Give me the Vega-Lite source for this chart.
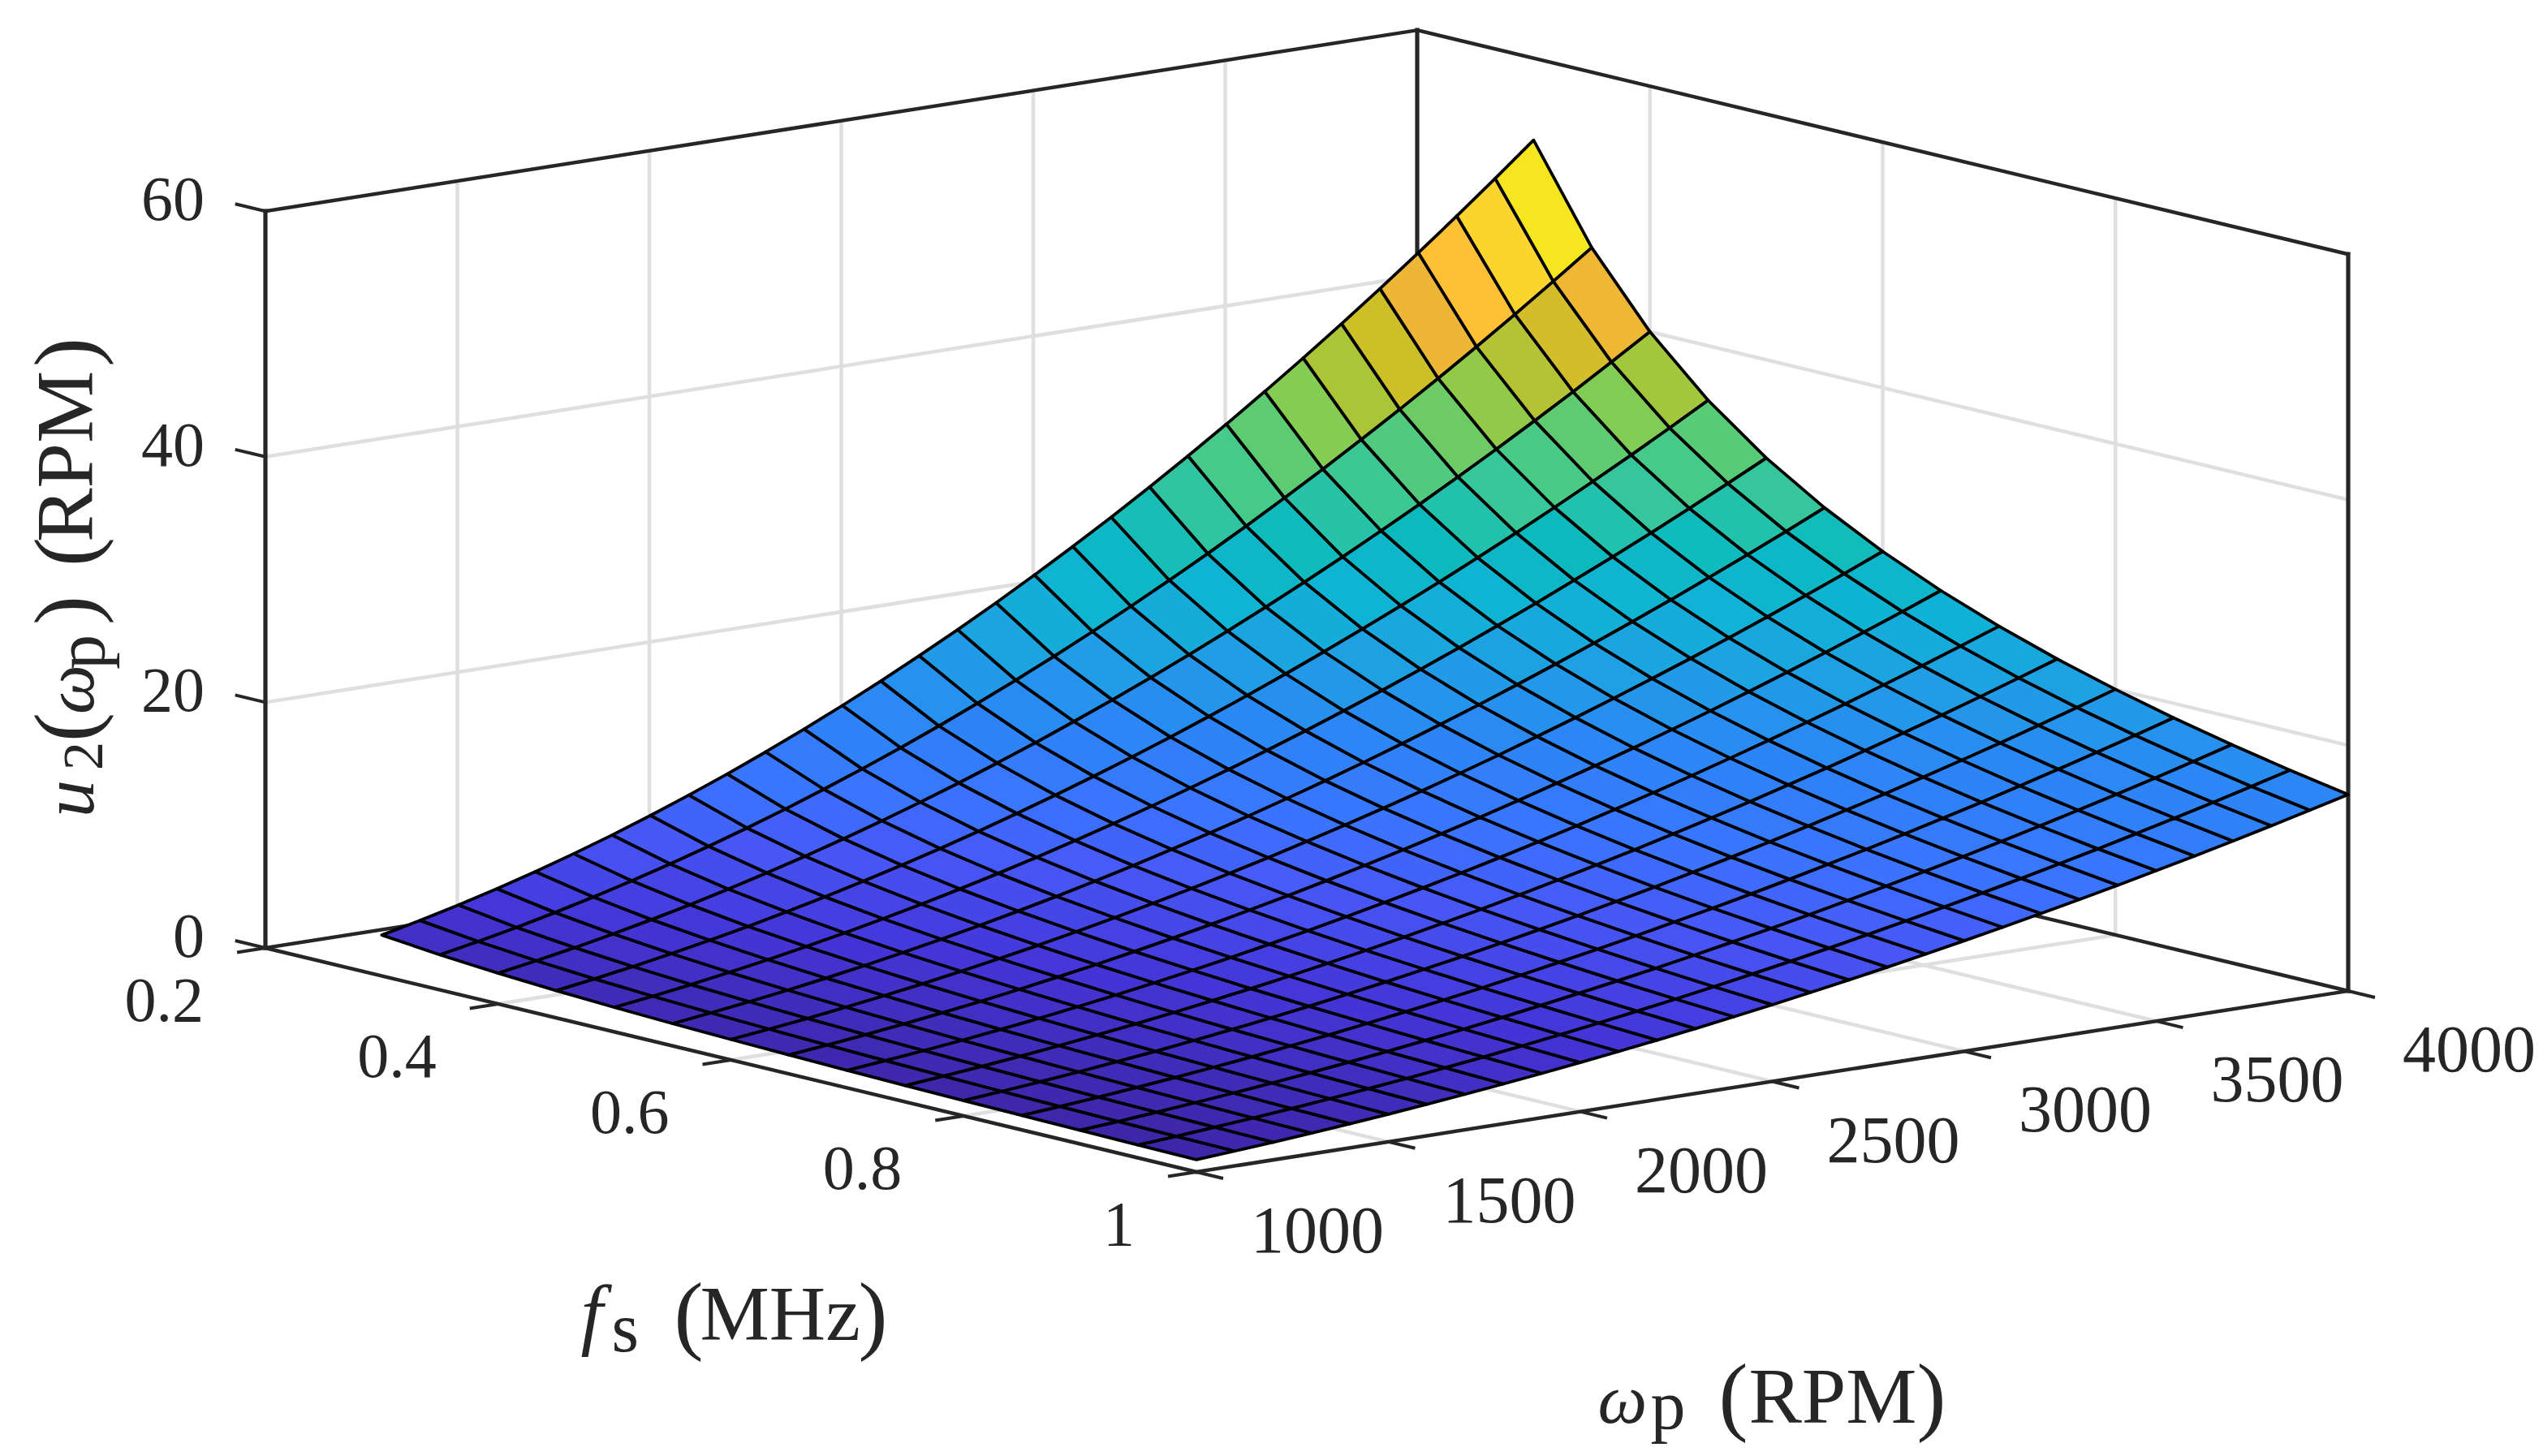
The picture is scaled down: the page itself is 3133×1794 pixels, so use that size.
{"$schema":"https://vega.github.io/schema/vega-lite/v6.json","width":3133,"height":1794,"padding":0,"autosize":{"type":"fit","contains":"padding"},"background":"white","config":{"view":{"stroke":null}},
"data":{"values":[
{"fs":0.3,"wp":1000,"u":3.33},{"fs":0.3,"wp":1100,"u":4.03},{"fs":0.3,"wp":1200,"u":4.8},{"fs":0.3,"wp":1300,"u":5.63},{"fs":0.3,"wp":1400,"u":6.53},{"fs":0.3,"wp":1500,"u":7.5},{"fs":0.3,"wp":1600,"u":8.53},{"fs":0.3,"wp":1700,"u":9.63},{"fs":0.3,"wp":1800,"u":10.8},{"fs":0.3,"wp":1900,"u":12.03},{"fs":0.3,"wp":2000,"u":13.33},{"fs":0.3,"wp":2100,"u":14.7},{"fs":0.3,"wp":2200,"u":16.13},{"fs":0.3,"wp":2300,"u":17.63},{"fs":0.3,"wp":2400,"u":19.2},{"fs":0.3,"wp":2500,"u":20.83},{"fs":0.3,"wp":2600,"u":22.53},{"fs":0.3,"wp":2700,"u":24.3},{"fs":0.3,"wp":2800,"u":26.13},{"fs":0.3,"wp":2900,"u":28.03},{"fs":0.3,"wp":3000,"u":30},{"fs":0.3,"wp":3100,"u":32.03},{"fs":0.3,"wp":3200,"u":34.13},{"fs":0.3,"wp":3300,"u":36.3},{"fs":0.3,"wp":3400,"u":38.53},{"fs":0.3,"wp":3500,"u":40.83},{"fs":0.3,"wp":3600,"u":43.2},{"fs":0.3,"wp":3700,"u":45.63},{"fs":0.3,"wp":3800,"u":48.13},{"fs":0.3,"wp":3900,"u":50.7},{"fs":0.3,"wp":4000,"u":53.33},
{"fs":0.35,"wp":1000,"u":2.86},{"fs":0.35,"wp":1100,"u":3.46},{"fs":0.35,"wp":1200,"u":4.11},{"fs":0.35,"wp":1300,"u":4.83},{"fs":0.35,"wp":1400,"u":5.6},{"fs":0.35,"wp":1500,"u":6.43},{"fs":0.35,"wp":1600,"u":7.31},{"fs":0.35,"wp":1700,"u":8.26},{"fs":0.35,"wp":1800,"u":9.26},{"fs":0.35,"wp":1900,"u":10.31},{"fs":0.35,"wp":2000,"u":11.43},{"fs":0.35,"wp":2100,"u":12.6},{"fs":0.35,"wp":2200,"u":13.83},{"fs":0.35,"wp":2300,"u":15.11},{"fs":0.35,"wp":2400,"u":16.46},{"fs":0.35,"wp":2500,"u":17.86},{"fs":0.35,"wp":2600,"u":19.31},{"fs":0.35,"wp":2700,"u":20.83},{"fs":0.35,"wp":2800,"u":22.4},{"fs":0.35,"wp":2900,"u":24.03},{"fs":0.35,"wp":3000,"u":25.71},{"fs":0.35,"wp":3100,"u":27.46},{"fs":0.35,"wp":3200,"u":29.26},{"fs":0.35,"wp":3300,"u":31.11},{"fs":0.35,"wp":3400,"u":33.03},{"fs":0.35,"wp":3500,"u":35},{"fs":0.35,"wp":3600,"u":37.03},{"fs":0.35,"wp":3700,"u":39.11},{"fs":0.35,"wp":3800,"u":41.26},{"fs":0.35,"wp":3900,"u":43.46},{"fs":0.35,"wp":4000,"u":45.71},
{"fs":0.4,"wp":1000,"u":2.5},{"fs":0.4,"wp":1100,"u":3.03},{"fs":0.4,"wp":1200,"u":3.6},{"fs":0.4,"wp":1300,"u":4.23},{"fs":0.4,"wp":1400,"u":4.9},{"fs":0.4,"wp":1500,"u":5.63},{"fs":0.4,"wp":1600,"u":6.4},{"fs":0.4,"wp":1700,"u":7.23},{"fs":0.4,"wp":1800,"u":8.1},{"fs":0.4,"wp":1900,"u":9.03},{"fs":0.4,"wp":2000,"u":10},{"fs":0.4,"wp":2100,"u":11.03},{"fs":0.4,"wp":2200,"u":12.1},{"fs":0.4,"wp":2300,"u":13.23},{"fs":0.4,"wp":2400,"u":14.4},{"fs":0.4,"wp":2500,"u":15.63},{"fs":0.4,"wp":2600,"u":16.9},{"fs":0.4,"wp":2700,"u":18.23},{"fs":0.4,"wp":2800,"u":19.6},{"fs":0.4,"wp":2900,"u":21.03},{"fs":0.4,"wp":3000,"u":22.5},{"fs":0.4,"wp":3100,"u":24.03},{"fs":0.4,"wp":3200,"u":25.6},{"fs":0.4,"wp":3300,"u":27.23},{"fs":0.4,"wp":3400,"u":28.9},{"fs":0.4,"wp":3500,"u":30.63},{"fs":0.4,"wp":3600,"u":32.4},{"fs":0.4,"wp":3700,"u":34.23},{"fs":0.4,"wp":3800,"u":36.1},{"fs":0.4,"wp":3900,"u":38.03},{"fs":0.4,"wp":4000,"u":40},
{"fs":0.45,"wp":1000,"u":2.22},{"fs":0.45,"wp":1100,"u":2.69},{"fs":0.45,"wp":1200,"u":3.2},{"fs":0.45,"wp":1300,"u":3.76},{"fs":0.45,"wp":1400,"u":4.36},{"fs":0.45,"wp":1500,"u":5},{"fs":0.45,"wp":1600,"u":5.69},{"fs":0.45,"wp":1700,"u":6.42},{"fs":0.45,"wp":1800,"u":7.2},{"fs":0.45,"wp":1900,"u":8.02},{"fs":0.45,"wp":2000,"u":8.89},{"fs":0.45,"wp":2100,"u":9.8},{"fs":0.45,"wp":2200,"u":10.76},{"fs":0.45,"wp":2300,"u":11.76},{"fs":0.45,"wp":2400,"u":12.8},{"fs":0.45,"wp":2500,"u":13.89},{"fs":0.45,"wp":2600,"u":15.02},{"fs":0.45,"wp":2700,"u":16.2},{"fs":0.45,"wp":2800,"u":17.42},{"fs":0.45,"wp":2900,"u":18.69},{"fs":0.45,"wp":3000,"u":20},{"fs":0.45,"wp":3100,"u":21.36},{"fs":0.45,"wp":3200,"u":22.76},{"fs":0.45,"wp":3300,"u":24.2},{"fs":0.45,"wp":3400,"u":25.69},{"fs":0.45,"wp":3500,"u":27.22},{"fs":0.45,"wp":3600,"u":28.8},{"fs":0.45,"wp":3700,"u":30.42},{"fs":0.45,"wp":3800,"u":32.09},{"fs":0.45,"wp":3900,"u":33.8},{"fs":0.45,"wp":4000,"u":35.56},
{"fs":0.5,"wp":1000,"u":2},{"fs":0.5,"wp":1100,"u":2.42},{"fs":0.5,"wp":1200,"u":2.88},{"fs":0.5,"wp":1300,"u":3.38},{"fs":0.5,"wp":1400,"u":3.92},{"fs":0.5,"wp":1500,"u":4.5},{"fs":0.5,"wp":1600,"u":5.12},{"fs":0.5,"wp":1700,"u":5.78},{"fs":0.5,"wp":1800,"u":6.48},{"fs":0.5,"wp":1900,"u":7.22},{"fs":0.5,"wp":2000,"u":8},{"fs":0.5,"wp":2100,"u":8.82},{"fs":0.5,"wp":2200,"u":9.68},{"fs":0.5,"wp":2300,"u":10.58},{"fs":0.5,"wp":2400,"u":11.52},{"fs":0.5,"wp":2500,"u":12.5},{"fs":0.5,"wp":2600,"u":13.52},{"fs":0.5,"wp":2700,"u":14.58},{"fs":0.5,"wp":2800,"u":15.68},{"fs":0.5,"wp":2900,"u":16.82},{"fs":0.5,"wp":3000,"u":18},{"fs":0.5,"wp":3100,"u":19.22},{"fs":0.5,"wp":3200,"u":20.48},{"fs":0.5,"wp":3300,"u":21.78},{"fs":0.5,"wp":3400,"u":23.12},{"fs":0.5,"wp":3500,"u":24.5},{"fs":0.5,"wp":3600,"u":25.92},{"fs":0.5,"wp":3700,"u":27.38},{"fs":0.5,"wp":3800,"u":28.88},{"fs":0.5,"wp":3900,"u":30.42},{"fs":0.5,"wp":4000,"u":32},
{"fs":0.55,"wp":1000,"u":1.82},{"fs":0.55,"wp":1100,"u":2.2},{"fs":0.55,"wp":1200,"u":2.62},{"fs":0.55,"wp":1300,"u":3.07},{"fs":0.55,"wp":1400,"u":3.56},{"fs":0.55,"wp":1500,"u":4.09},{"fs":0.55,"wp":1600,"u":4.65},{"fs":0.55,"wp":1700,"u":5.25},{"fs":0.55,"wp":1800,"u":5.89},{"fs":0.55,"wp":1900,"u":6.56},{"fs":0.55,"wp":2000,"u":7.27},{"fs":0.55,"wp":2100,"u":8.02},{"fs":0.55,"wp":2200,"u":8.8},{"fs":0.55,"wp":2300,"u":9.62},{"fs":0.55,"wp":2400,"u":10.47},{"fs":0.55,"wp":2500,"u":11.36},{"fs":0.55,"wp":2600,"u":12.29},{"fs":0.55,"wp":2700,"u":13.25},{"fs":0.55,"wp":2800,"u":14.25},{"fs":0.55,"wp":2900,"u":15.29},{"fs":0.55,"wp":3000,"u":16.36},{"fs":0.55,"wp":3100,"u":17.47},{"fs":0.55,"wp":3200,"u":18.62},{"fs":0.55,"wp":3300,"u":19.8},{"fs":0.55,"wp":3400,"u":21.02},{"fs":0.55,"wp":3500,"u":22.27},{"fs":0.55,"wp":3600,"u":23.56},{"fs":0.55,"wp":3700,"u":24.89},{"fs":0.55,"wp":3800,"u":26.25},{"fs":0.55,"wp":3900,"u":27.65},{"fs":0.55,"wp":4000,"u":29.09},
{"fs":0.6,"wp":1000,"u":1.67},{"fs":0.6,"wp":1100,"u":2.02},{"fs":0.6,"wp":1200,"u":2.4},{"fs":0.6,"wp":1300,"u":2.82},{"fs":0.6,"wp":1400,"u":3.27},{"fs":0.6,"wp":1500,"u":3.75},{"fs":0.6,"wp":1600,"u":4.27},{"fs":0.6,"wp":1700,"u":4.82},{"fs":0.6,"wp":1800,"u":5.4},{"fs":0.6,"wp":1900,"u":6.02},{"fs":0.6,"wp":2000,"u":6.67},{"fs":0.6,"wp":2100,"u":7.35},{"fs":0.6,"wp":2200,"u":8.07},{"fs":0.6,"wp":2300,"u":8.82},{"fs":0.6,"wp":2400,"u":9.6},{"fs":0.6,"wp":2500,"u":10.42},{"fs":0.6,"wp":2600,"u":11.27},{"fs":0.6,"wp":2700,"u":12.15},{"fs":0.6,"wp":2800,"u":13.07},{"fs":0.6,"wp":2900,"u":14.02},{"fs":0.6,"wp":3000,"u":15},{"fs":0.6,"wp":3100,"u":16.02},{"fs":0.6,"wp":3200,"u":17.07},{"fs":0.6,"wp":3300,"u":18.15},{"fs":0.6,"wp":3400,"u":19.27},{"fs":0.6,"wp":3500,"u":20.42},{"fs":0.6,"wp":3600,"u":21.6},{"fs":0.6,"wp":3700,"u":22.82},{"fs":0.6,"wp":3800,"u":24.07},{"fs":0.6,"wp":3900,"u":25.35},{"fs":0.6,"wp":4000,"u":26.67},
{"fs":0.65,"wp":1000,"u":1.54},{"fs":0.65,"wp":1100,"u":1.86},{"fs":0.65,"wp":1200,"u":2.22},{"fs":0.65,"wp":1300,"u":2.6},{"fs":0.65,"wp":1400,"u":3.02},{"fs":0.65,"wp":1500,"u":3.46},{"fs":0.65,"wp":1600,"u":3.94},{"fs":0.65,"wp":1700,"u":4.45},{"fs":0.65,"wp":1800,"u":4.98},{"fs":0.65,"wp":1900,"u":5.55},{"fs":0.65,"wp":2000,"u":6.15},{"fs":0.65,"wp":2100,"u":6.78},{"fs":0.65,"wp":2200,"u":7.45},{"fs":0.65,"wp":2300,"u":8.14},{"fs":0.65,"wp":2400,"u":8.86},{"fs":0.65,"wp":2500,"u":9.62},{"fs":0.65,"wp":2600,"u":10.4},{"fs":0.65,"wp":2700,"u":11.22},{"fs":0.65,"wp":2800,"u":12.06},{"fs":0.65,"wp":2900,"u":12.94},{"fs":0.65,"wp":3000,"u":13.85},{"fs":0.65,"wp":3100,"u":14.78},{"fs":0.65,"wp":3200,"u":15.75},{"fs":0.65,"wp":3300,"u":16.75},{"fs":0.65,"wp":3400,"u":17.78},{"fs":0.65,"wp":3500,"u":18.85},{"fs":0.65,"wp":3600,"u":19.94},{"fs":0.65,"wp":3700,"u":21.06},{"fs":0.65,"wp":3800,"u":22.22},{"fs":0.65,"wp":3900,"u":23.4},{"fs":0.65,"wp":4000,"u":24.62},
{"fs":0.7,"wp":1000,"u":1.43},{"fs":0.7,"wp":1100,"u":1.73},{"fs":0.7,"wp":1200,"u":2.06},{"fs":0.7,"wp":1300,"u":2.41},{"fs":0.7,"wp":1400,"u":2.8},{"fs":0.7,"wp":1500,"u":3.21},{"fs":0.7,"wp":1600,"u":3.66},{"fs":0.7,"wp":1700,"u":4.13},{"fs":0.7,"wp":1800,"u":4.63},{"fs":0.7,"wp":1900,"u":5.16},{"fs":0.7,"wp":2000,"u":5.71},{"fs":0.7,"wp":2100,"u":6.3},{"fs":0.7,"wp":2200,"u":6.91},{"fs":0.7,"wp":2300,"u":7.56},{"fs":0.7,"wp":2400,"u":8.23},{"fs":0.7,"wp":2500,"u":8.93},{"fs":0.7,"wp":2600,"u":9.66},{"fs":0.7,"wp":2700,"u":10.41},{"fs":0.7,"wp":2800,"u":11.2},{"fs":0.7,"wp":2900,"u":12.01},{"fs":0.7,"wp":3000,"u":12.86},{"fs":0.7,"wp":3100,"u":13.73},{"fs":0.7,"wp":3200,"u":14.63},{"fs":0.7,"wp":3300,"u":15.56},{"fs":0.7,"wp":3400,"u":16.51},{"fs":0.7,"wp":3500,"u":17.5},{"fs":0.7,"wp":3600,"u":18.51},{"fs":0.7,"wp":3700,"u":19.56},{"fs":0.7,"wp":3800,"u":20.63},{"fs":0.7,"wp":3900,"u":21.73},{"fs":0.7,"wp":4000,"u":22.86},
{"fs":0.75,"wp":1000,"u":1.33},{"fs":0.75,"wp":1100,"u":1.61},{"fs":0.75,"wp":1200,"u":1.92},{"fs":0.75,"wp":1300,"u":2.25},{"fs":0.75,"wp":1400,"u":2.61},{"fs":0.75,"wp":1500,"u":3},{"fs":0.75,"wp":1600,"u":3.41},{"fs":0.75,"wp":1700,"u":3.85},{"fs":0.75,"wp":1800,"u":4.32},{"fs":0.75,"wp":1900,"u":4.81},{"fs":0.75,"wp":2000,"u":5.33},{"fs":0.75,"wp":2100,"u":5.88},{"fs":0.75,"wp":2200,"u":6.45},{"fs":0.75,"wp":2300,"u":7.05},{"fs":0.75,"wp":2400,"u":7.68},{"fs":0.75,"wp":2500,"u":8.33},{"fs":0.75,"wp":2600,"u":9.01},{"fs":0.75,"wp":2700,"u":9.72},{"fs":0.75,"wp":2800,"u":10.45},{"fs":0.75,"wp":2900,"u":11.21},{"fs":0.75,"wp":3000,"u":12},{"fs":0.75,"wp":3100,"u":12.81},{"fs":0.75,"wp":3200,"u":13.65},{"fs":0.75,"wp":3300,"u":14.52},{"fs":0.75,"wp":3400,"u":15.41},{"fs":0.75,"wp":3500,"u":16.33},{"fs":0.75,"wp":3600,"u":17.28},{"fs":0.75,"wp":3700,"u":18.25},{"fs":0.75,"wp":3800,"u":19.25},{"fs":0.75,"wp":3900,"u":20.28},{"fs":0.75,"wp":4000,"u":21.33},
{"fs":0.8,"wp":1000,"u":1.25},{"fs":0.8,"wp":1100,"u":1.51},{"fs":0.8,"wp":1200,"u":1.8},{"fs":0.8,"wp":1300,"u":2.11},{"fs":0.8,"wp":1400,"u":2.45},{"fs":0.8,"wp":1500,"u":2.81},{"fs":0.8,"wp":1600,"u":3.2},{"fs":0.8,"wp":1700,"u":3.61},{"fs":0.8,"wp":1800,"u":4.05},{"fs":0.8,"wp":1900,"u":4.51},{"fs":0.8,"wp":2000,"u":5},{"fs":0.8,"wp":2100,"u":5.51},{"fs":0.8,"wp":2200,"u":6.05},{"fs":0.8,"wp":2300,"u":6.61},{"fs":0.8,"wp":2400,"u":7.2},{"fs":0.8,"wp":2500,"u":7.81},{"fs":0.8,"wp":2600,"u":8.45},{"fs":0.8,"wp":2700,"u":9.11},{"fs":0.8,"wp":2800,"u":9.8},{"fs":0.8,"wp":2900,"u":10.51},{"fs":0.8,"wp":3000,"u":11.25},{"fs":0.8,"wp":3100,"u":12.01},{"fs":0.8,"wp":3200,"u":12.8},{"fs":0.8,"wp":3300,"u":13.61},{"fs":0.8,"wp":3400,"u":14.45},{"fs":0.8,"wp":3500,"u":15.31},{"fs":0.8,"wp":3600,"u":16.2},{"fs":0.8,"wp":3700,"u":17.11},{"fs":0.8,"wp":3800,"u":18.05},{"fs":0.8,"wp":3900,"u":19.01},{"fs":0.8,"wp":4000,"u":20},
{"fs":0.85,"wp":1000,"u":1.18},{"fs":0.85,"wp":1100,"u":1.42},{"fs":0.85,"wp":1200,"u":1.69},{"fs":0.85,"wp":1300,"u":1.99},{"fs":0.85,"wp":1400,"u":2.31},{"fs":0.85,"wp":1500,"u":2.65},{"fs":0.85,"wp":1600,"u":3.01},{"fs":0.85,"wp":1700,"u":3.4},{"fs":0.85,"wp":1800,"u":3.81},{"fs":0.85,"wp":1900,"u":4.25},{"fs":0.85,"wp":2000,"u":4.71},{"fs":0.85,"wp":2100,"u":5.19},{"fs":0.85,"wp":2200,"u":5.69},{"fs":0.85,"wp":2300,"u":6.22},{"fs":0.85,"wp":2400,"u":6.78},{"fs":0.85,"wp":2500,"u":7.35},{"fs":0.85,"wp":2600,"u":7.95},{"fs":0.85,"wp":2700,"u":8.58},{"fs":0.85,"wp":2800,"u":9.22},{"fs":0.85,"wp":2900,"u":9.89},{"fs":0.85,"wp":3000,"u":10.59},{"fs":0.85,"wp":3100,"u":11.31},{"fs":0.85,"wp":3200,"u":12.05},{"fs":0.85,"wp":3300,"u":12.81},{"fs":0.85,"wp":3400,"u":13.6},{"fs":0.85,"wp":3500,"u":14.41},{"fs":0.85,"wp":3600,"u":15.25},{"fs":0.85,"wp":3700,"u":16.11},{"fs":0.85,"wp":3800,"u":16.99},{"fs":0.85,"wp":3900,"u":17.89},{"fs":0.85,"wp":4000,"u":18.82},
{"fs":0.9,"wp":1000,"u":1.11},{"fs":0.9,"wp":1100,"u":1.34},{"fs":0.9,"wp":1200,"u":1.6},{"fs":0.9,"wp":1300,"u":1.88},{"fs":0.9,"wp":1400,"u":2.18},{"fs":0.9,"wp":1500,"u":2.5},{"fs":0.9,"wp":1600,"u":2.84},{"fs":0.9,"wp":1700,"u":3.21},{"fs":0.9,"wp":1800,"u":3.6},{"fs":0.9,"wp":1900,"u":4.01},{"fs":0.9,"wp":2000,"u":4.44},{"fs":0.9,"wp":2100,"u":4.9},{"fs":0.9,"wp":2200,"u":5.38},{"fs":0.9,"wp":2300,"u":5.88},{"fs":0.9,"wp":2400,"u":6.4},{"fs":0.9,"wp":2500,"u":6.94},{"fs":0.9,"wp":2600,"u":7.51},{"fs":0.9,"wp":2700,"u":8.1},{"fs":0.9,"wp":2800,"u":8.71},{"fs":0.9,"wp":2900,"u":9.34},{"fs":0.9,"wp":3000,"u":10},{"fs":0.9,"wp":3100,"u":10.68},{"fs":0.9,"wp":3200,"u":11.38},{"fs":0.9,"wp":3300,"u":12.1},{"fs":0.9,"wp":3400,"u":12.84},{"fs":0.9,"wp":3500,"u":13.61},{"fs":0.9,"wp":3600,"u":14.4},{"fs":0.9,"wp":3700,"u":15.21},{"fs":0.9,"wp":3800,"u":16.04},{"fs":0.9,"wp":3900,"u":16.9},{"fs":0.9,"wp":4000,"u":17.78},
{"fs":0.95,"wp":1000,"u":1.05},{"fs":0.95,"wp":1100,"u":1.27},{"fs":0.95,"wp":1200,"u":1.52},{"fs":0.95,"wp":1300,"u":1.78},{"fs":0.95,"wp":1400,"u":2.06},{"fs":0.95,"wp":1500,"u":2.37},{"fs":0.95,"wp":1600,"u":2.69},{"fs":0.95,"wp":1700,"u":3.04},{"fs":0.95,"wp":1800,"u":3.41},{"fs":0.95,"wp":1900,"u":3.8},{"fs":0.95,"wp":2000,"u":4.21},{"fs":0.95,"wp":2100,"u":4.64},{"fs":0.95,"wp":2200,"u":5.09},{"fs":0.95,"wp":2300,"u":5.57},{"fs":0.95,"wp":2400,"u":6.06},{"fs":0.95,"wp":2500,"u":6.58},{"fs":0.95,"wp":2600,"u":7.12},{"fs":0.95,"wp":2700,"u":7.67},{"fs":0.95,"wp":2800,"u":8.25},{"fs":0.95,"wp":2900,"u":8.85},{"fs":0.95,"wp":3000,"u":9.47},{"fs":0.95,"wp":3100,"u":10.12},{"fs":0.95,"wp":3200,"u":10.78},{"fs":0.95,"wp":3300,"u":11.46},{"fs":0.95,"wp":3400,"u":12.17},{"fs":0.95,"wp":3500,"u":12.89},{"fs":0.95,"wp":3600,"u":13.64},{"fs":0.95,"wp":3700,"u":14.41},{"fs":0.95,"wp":3800,"u":15.2},{"fs":0.95,"wp":3900,"u":16.01},{"fs":0.95,"wp":4000,"u":16.84},
{"fs":1,"wp":1000,"u":1},{"fs":1,"wp":1100,"u":1.21},{"fs":1,"wp":1200,"u":1.44},{"fs":1,"wp":1300,"u":1.69},{"fs":1,"wp":1400,"u":1.96},{"fs":1,"wp":1500,"u":2.25},{"fs":1,"wp":1600,"u":2.56},{"fs":1,"wp":1700,"u":2.89},{"fs":1,"wp":1800,"u":3.24},{"fs":1,"wp":1900,"u":3.61},{"fs":1,"wp":2000,"u":4},{"fs":1,"wp":2100,"u":4.41},{"fs":1,"wp":2200,"u":4.84},{"fs":1,"wp":2300,"u":5.29},{"fs":1,"wp":2400,"u":5.76},{"fs":1,"wp":2500,"u":6.25},{"fs":1,"wp":2600,"u":6.76},{"fs":1,"wp":2700,"u":7.29},{"fs":1,"wp":2800,"u":7.84},{"fs":1,"wp":2900,"u":8.41},{"fs":1,"wp":3000,"u":9},{"fs":1,"wp":3100,"u":9.61},{"fs":1,"wp":3200,"u":10.24},{"fs":1,"wp":3300,"u":10.89},{"fs":1,"wp":3400,"u":11.56},{"fs":1,"wp":3500,"u":12.25},{"fs":1,"wp":3600,"u":12.96},{"fs":1,"wp":3700,"u":13.69},{"fs":1,"wp":3800,"u":14.44},{"fs":1,"wp":3900,"u":15.21},{"fs":1,"wp":4000,"u":16},
{"part":"grid","seg":1,"fs":0.4,"wp":1000,"u":0},{"part":"grid","seg":1,"fs":0.4,"wp":4000,"u":0},
{"part":"grid","seg":2,"fs":0.6,"wp":1000,"u":0},{"part":"grid","seg":2,"fs":0.6,"wp":4000,"u":0},
{"part":"grid","seg":3,"fs":0.8,"wp":1000,"u":0},{"part":"grid","seg":3,"fs":0.8,"wp":4000,"u":0},
{"part":"grid","seg":4,"fs":0.2,"wp":1500,"u":0},{"part":"grid","seg":4,"fs":1,"wp":1500,"u":0},
{"part":"grid","seg":5,"fs":0.2,"wp":2000,"u":0},{"part":"grid","seg":5,"fs":1,"wp":2000,"u":0},
{"part":"grid","seg":6,"fs":0.2,"wp":2500,"u":0},{"part":"grid","seg":6,"fs":1,"wp":2500,"u":0},
{"part":"grid","seg":7,"fs":0.2,"wp":3000,"u":0},{"part":"grid","seg":7,"fs":1,"wp":3000,"u":0},
{"part":"grid","seg":8,"fs":0.2,"wp":3500,"u":0},{"part":"grid","seg":8,"fs":1,"wp":3500,"u":0},
{"part":"grid","seg":9,"fs":0.2,"wp":1500,"u":0},{"part":"grid","seg":9,"fs":0.2,"wp":1500,"u":60},
{"part":"grid","seg":10,"fs":0.2,"wp":2000,"u":0},{"part":"grid","seg":10,"fs":0.2,"wp":2000,"u":60},
{"part":"grid","seg":11,"fs":0.2,"wp":2500,"u":0},{"part":"grid","seg":11,"fs":0.2,"wp":2500,"u":60},
{"part":"grid","seg":12,"fs":0.2,"wp":3000,"u":0},{"part":"grid","seg":12,"fs":0.2,"wp":3000,"u":60},
{"part":"grid","seg":13,"fs":0.2,"wp":3500,"u":0},{"part":"grid","seg":13,"fs":0.2,"wp":3500,"u":60},
{"part":"grid","seg":14,"fs":0.2,"wp":1000,"u":20},{"part":"grid","seg":14,"fs":0.2,"wp":4000,"u":20},
{"part":"grid","seg":15,"fs":0.2,"wp":1000,"u":40},{"part":"grid","seg":15,"fs":0.2,"wp":4000,"u":40},
{"part":"grid","seg":16,"fs":0.4,"wp":4000,"u":0},{"part":"grid","seg":16,"fs":0.4,"wp":4000,"u":60},
{"part":"grid","seg":17,"fs":0.6,"wp":4000,"u":0},{"part":"grid","seg":17,"fs":0.6,"wp":4000,"u":60},
{"part":"grid","seg":18,"fs":0.8,"wp":4000,"u":0},{"part":"grid","seg":18,"fs":0.8,"wp":4000,"u":60},
{"part":"grid","seg":19,"fs":0.2,"wp":4000,"u":20},{"part":"grid","seg":19,"fs":1,"wp":4000,"u":20},
{"part":"grid","seg":20,"fs":0.2,"wp":4000,"u":40},{"part":"grid","seg":20,"fs":1,"wp":4000,"u":40},
{"part":"vbox","seg":1,"fs":0.2,"wp":1000,"u":0},{"part":"vbox","seg":1,"fs":0.2,"wp":1000,"u":60},
{"part":"vbox","seg":2,"fs":1,"wp":4000,"u":0},{"part":"vbox","seg":2,"fs":1,"wp":4000,"u":60},
{"part":"vbox","seg":3,"fs":0.2,"wp":4000,"u":0},{"part":"vbox","seg":3,"fs":0.2,"wp":4000,"u":60},
{"part":"box","seg":4,"fs":0.2,"wp":1000,"u":60},{"part":"box","seg":4,"fs":0.2,"wp":4000,"u":60},
{"part":"box","seg":5,"fs":0.2,"wp":4000,"u":60},{"part":"box","seg":5,"fs":1,"wp":4000,"u":60},
{"part":"box","seg":6,"fs":0.2,"wp":1000,"u":0},{"part":"box","seg":6,"fs":0.2,"wp":4000,"u":0},
{"part":"box","seg":7,"fs":0.2,"wp":4000,"u":0},{"part":"box","seg":7,"fs":1,"wp":4000,"u":0},
{"part":"box","seg":8,"fs":0.2,"wp":1000,"u":0},{"part":"box","seg":8,"fs":1,"wp":1000,"u":0},
{"part":"box","seg":9,"fs":1,"wp":1000,"u":0},{"part":"box","seg":9,"fs":1,"wp":4000,"u":0},
{"part":"tick","seg":1,"fs":0.2,"wp":1000,"u":0},{"part":"tick","seg":1,"fs":0.2,"wp":926,"u":0},
{"part":"tick","seg":2,"fs":0.4,"wp":1000,"u":0},{"part":"tick","seg":2,"fs":0.4,"wp":926,"u":0},
{"part":"tick","seg":3,"fs":0.6,"wp":1000,"u":0},{"part":"tick","seg":3,"fs":0.6,"wp":926,"u":0},
{"part":"tick","seg":4,"fs":0.8,"wp":1000,"u":0},{"part":"tick","seg":4,"fs":0.8,"wp":926,"u":0},
{"part":"tick","seg":5,"fs":1,"wp":1000,"u":0},{"part":"tick","seg":5,"fs":1,"wp":926,"u":0},
{"part":"tick","seg":6,"fs":1,"wp":1000,"u":0},{"part":"tick","seg":6,"fs":1.023,"wp":1000,"u":0},
{"part":"tick","seg":7,"fs":1,"wp":1500,"u":0},{"part":"tick","seg":7,"fs":1.023,"wp":1500,"u":0},
{"part":"tick","seg":8,"fs":1,"wp":2000,"u":0},{"part":"tick","seg":8,"fs":1.023,"wp":2000,"u":0},
{"part":"tick","seg":9,"fs":1,"wp":2500,"u":0},{"part":"tick","seg":9,"fs":1.023,"wp":2500,"u":0},
{"part":"tick","seg":10,"fs":1,"wp":3000,"u":0},{"part":"tick","seg":10,"fs":1.023,"wp":3000,"u":0},
{"part":"tick","seg":11,"fs":1,"wp":3500,"u":0},{"part":"tick","seg":11,"fs":1.023,"wp":3500,"u":0},
{"part":"tick","seg":12,"fs":1,"wp":4000,"u":0},{"part":"tick","seg":12,"fs":1.023,"wp":4000,"u":0},
{"part":"tick","seg":13,"fs":0.2,"wp":1000,"u":0},{"part":"tick","seg":13,"fs":0.174,"wp":1000,"u":0},
{"part":"tick","seg":14,"fs":0.2,"wp":1000,"u":20},{"part":"tick","seg":14,"fs":0.174,"wp":1000,"u":20},
{"part":"tick","seg":15,"fs":0.2,"wp":1000,"u":40},{"part":"tick","seg":15,"fs":0.174,"wp":1000,"u":40},
{"part":"tick","seg":16,"fs":0.2,"wp":1000,"u":60},{"part":"tick","seg":16,"fs":0.174,"wp":1000,"u":60},
{"part":"zl","fs":0.2,"wp":1000,"u":0,"label":"0"},{"part":"zl","fs":0.2,"wp":1000,"u":20,"label":"20"},{"part":"zl","fs":0.2,"wp":1000,"u":40,"label":"40"},{"part":"zl","fs":0.2,"wp":1000,"u":60,"label":"60"},
{"part":"fl","fs":0.2,"wp":1000,"u":0,"label":"0.2"},{"part":"fl","fs":0.4,"wp":1000,"u":0,"label":"0.4"},{"part":"fl","fs":0.6,"wp":1000,"u":0,"label":"0.6"},{"part":"fl","fs":0.8,"wp":1000,"u":0,"label":"0.8"},{"part":"fl","fs":1,"wp":1000,"u":0,"label":"1"},
{"part":"wl","fs":1,"wp":1000,"u":0,"label":"1000"},{"part":"wl","fs":1,"wp":1500,"u":0,"label":"1500"},{"part":"wl","fs":1,"wp":2000,"u":0,"label":"2000"},{"part":"wl","fs":1,"wp":2500,"u":0,"label":"2500"},{"part":"wl","fs":1,"wp":3000,"u":0,"label":"3000"},{"part":"wl","fs":1,"wp":3500,"u":0,"label":"3500"},{"part":"wl","fs":1,"wp":4000,"u":0,"label":"4000"},
{"part":"y1","fs":0.2,"wp":1000,"u":30,"label":"u"},{"part":"y2","fs":0.2,"wp":1000,"u":30,"label":"2"},{"part":"y3","fs":0.2,"wp":1000,"u":30,"label":"("},{"part":"y4","fs":0.2,"wp":1000,"u":30,"label":"ω"},{"part":"y5","fs":0.2,"wp":1000,"u":30,"label":"p"},{"part":"y6","fs":0.2,"wp":1000,"u":30,"label":")"},{"part":"y7","fs":0.2,"wp":1000,"u":30,"label":"("},{"part":"y8","fs":0.2,"wp":1000,"u":30,"label":"RPM"},{"part":"y9","fs":0.2,"wp":1000,"u":30,"label":")"},
{"part":"f1","fs":0.6,"wp":1000,"u":0,"label":"f"},{"part":"f2","fs":0.6,"wp":1000,"u":0,"label":"s"},{"part":"f3","fs":0.6,"wp":1000,"u":0,"label":"("},{"part":"f4","fs":0.6,"wp":1000,"u":0,"label":"MHz"},{"part":"f5","fs":0.6,"wp":1000,"u":0,"label":")"},
{"part":"w1","fs":1,"wp":2500,"u":0,"label":"ω"},{"part":"w2","fs":1,"wp":2500,"u":0,"label":"p"},{"part":"w3","fs":1,"wp":2500,"u":0,"label":"("},{"part":"w4","fs":1,"wp":2500,"u":0,"label":"RPM"},{"part":"w5","fs":1,"wp":2500,"u":0,"label":")"}
]},
"transform":[
{"calculate":"327+1147*(datum.fs-0.2)/0.8+1419*(datum.wp-1000)/3000","as":"px"},
{"calculate":"1168+276*(datum.fs-0.2)/0.8-223*(datum.wp-1000)/3000-15.13*datum.u","as":"py"}
],
"encoding":{
"x":{"field":"px","type":"quantitative","axis":null,"scale":{"domain":[0,3133],"nice":false,"zero":false}},
"y":{"field":"py","type":"quantitative","axis":null,"scale":{"domain":[1794,0],"nice":false,"zero":false}}
},
"layer":[
{"transform":[{"filter":"datum.part=='grid'"}],"mark":{"type":"line","stroke":"#DFDFDF","strokeWidth":4.5},"encoding":{"detail":{"field":"seg","type":"nominal"}}},
{"transform":[{"filter":"datum.part=='vbox'"}],"mark":{"type":"line","stroke":"#262626","strokeWidth":5.2,"strokeCap":"square"},"encoding":{"detail":{"field":"seg","type":"nominal"}}},
{"transform":[{"filter":"datum.part=='box'"}],"mark":{"type":"line","stroke":"#262626","strokeWidth":4.5,"strokeCap":"square"},"encoding":{"detail":{"field":"seg","type":"nominal"}}},
{"transform":[{"filter":"datum.part=='tick'"}],"mark":{"type":"line","stroke":"#262626","strokeWidth":4},"encoding":{"detail":{"field":"seg","type":"nominal"}}},
{"transform":[
{"filter":"!datum.part"},
{"calculate":"round((datum.fs-0.3)/0.05)","as":"i"},
{"calculate":"round((datum.wp-1000)/100)","as":"j"},
{"calculate":"[0,1,2,3]","as":"k"},
{"flatten":["k"]},
{"calculate":"datum.i-((datum.k==1||datum.k==2)?1:0)","as":"a"},
{"calculate":"datum.j-((datum.k==2||datum.k==3)?1:0)","as":"b"},
{"filter":"datum.a>=0&&datum.a<14&&datum.b>=0&&datum.b<30"},
{"calculate":"datum.a*100+datum.b","as":"cell"},
{"calculate":"datum.k==0?datum.u:null","as":"cu"},
{"joinaggregate":[{"op":"max","field":"cu","as":"cellu"}],"groupby":["cell"]}
],
"mark":{"type":"line","interpolate":"linear-closed","stroke":"#000000","strokeWidth":3.8,"strokeJoin":"round"},
"encoding":{
"detail":{"field":"cell","type":"nominal"},
"order":{"field":"k","type":"quantitative"},
"fill":{"field":"cellu","type":"quantitative","legend":null,"scale":{"zero":false,"nice":false,"interpolate":"rgb","domain":[1,4.66,8.48,11.47,15.97,19.84,23.5,27.17,29.78,32.03,34.13,36.3,38.53,40.83,43.18,45.63,48.1,50.7,53.33],"range":["#3E26A8","#4435D8","#4758F7","#3A74FF","#2B87F5","#1F9FE4","#10B2D6","#0BBABF","#2EC5A2","#45CA89","#5CCB72","#85CC52","#ABC537","#CDBF27","#EEB635","#FEC035","#FBD42D","#F5E61F","#F9FB15"]}}
}},
{"transform":[{"filter":"datum.part=='zl'"}],"mark":{"type":"text","font":"Liberation Serif","fontSize":78,"fill":"#262626","align":"right","baseline":"middle","dx":-75,"dy":-12},"encoding":{"text":{"field":"label"}}},
{"transform":[{"filter":"datum.part=='fl'"}],"mark":{"type":"text","font":"Liberation Serif","fontSize":78,"fill":"#262626","align":"right","baseline":"middle","dx":-76,"dy":67},"encoding":{"text":{"field":"label"}}},
{"transform":[{"filter":"datum.part=='wl'"}],"mark":{"type":"text","font":"Liberation Serif","fontSize":82,"fill":"#262626","align":"left","baseline":"middle","dx":67,"dy":74},"encoding":{"text":{"field":"label"}}},
{"transform":[{"filter":"datum.part=='y1'"}],"mark":{"type":"text","font":"Liberation Serif","fontStyle":"italic","fontSize":92,"fill":"#262626","angle":270,"align":"left","baseline":"alphabetic","dx":-293,"dy":-212},"encoding":{"text":{"field":"label"}}},
{"transform":[{"filter":"datum.part=='y2'"}],"mark":{"type":"text","font":"Liberation Serif","fontSize":70,"fill":"#262626","angle":270,"align":"left","baseline":"alphabetic","dx":-235,"dy":-201},"encoding":{"text":{"field":"label"}}},
{"transform":[{"filter":"datum.part=='y3'"}],"mark":{"type":"text","font":"Liberation Serif","fontSize":108,"fill":"#262626","angle":270,"align":"left","baseline":"alphabetic","dx":-200,"dy":-210},"encoding":{"text":{"field":"label"}}},
{"transform":[{"filter":"datum.part=='y4'"}],"mark":{"type":"text","font":"Liberation Serif","fontStyle":"italic","fontSize":86,"fill":"#262626","angle":270,"align":"left","baseline":"alphabetic","dx":-166,"dy":-212},"encoding":{"text":{"field":"label"}}},
{"transform":[{"filter":"datum.part=='y5'"}],"mark":{"type":"text","font":"Liberation Serif","fontSize":86,"fill":"#262626","angle":270,"align":"left","baseline":"alphabetic","dx":-111,"dy":-199},"encoding":{"text":{"field":"label"}}},
{"transform":[{"filter":"datum.part=='y6'"}],"mark":{"type":"text","font":"Liberation Serif","fontSize":108,"fill":"#262626","angle":270,"align":"left","baseline":"alphabetic","dx":-56,"dy":-210},"encoding":{"text":{"field":"label"}}},
{"transform":[{"filter":"datum.part=='y7'"}],"mark":{"type":"text","font":"Liberation Serif","fontSize":108,"fill":"#262626","angle":270,"align":"left","baseline":"alphabetic","dx":16,"dy":-210},"encoding":{"text":{"field":"label"}}},
{"transform":[{"filter":"datum.part=='y8'"}],"mark":{"type":"text","font":"Liberation Serif","fontSize":100,"fill":"#262626","angle":270,"align":"left","baseline":"alphabetic","dx":46,"dy":-214},"encoding":{"text":{"field":"label"}}},
{"transform":[{"filter":"datum.part=='y9'"}],"mark":{"type":"text","font":"Liberation Serif","fontSize":108,"fill":"#262626","angle":270,"align":"left","baseline":"alphabetic","dx":262,"dy":-210},"encoding":{"text":{"field":"label"}}},
{"transform":[{"filter":"datum.part=='f1'"}],"mark":{"type":"text","font":"Liberation Serif","fontStyle":"italic","fontSize":98,"fill":"#262626","align":"left","baseline":"alphabetic","dx":-185,"dy":345},"encoding":{"text":{"field":"label"}}},
{"transform":[{"filter":"datum.part=='f2'"}],"mark":{"type":"text","font":"Liberation Serif","fontSize":86,"fill":"#262626","align":"left","baseline":"alphabetic","dx":-147,"dy":359},"encoding":{"text":{"field":"label"}}},
{"transform":[{"filter":"datum.part=='f3'"}],"mark":{"type":"text","font":"Liberation Serif","fontSize":108,"fill":"#262626","align":"left","baseline":"alphabetic","dx":-70,"dy":349},"encoding":{"text":{"field":"label"}}},
{"transform":[{"filter":"datum.part=='f4'"}],"mark":{"type":"text","font":"Liberation Serif","fontSize":96,"fill":"#262626","align":"left","baseline":"alphabetic","dx":-38,"dy":345},"encoding":{"text":{"field":"label"}}},
{"transform":[{"filter":"datum.part=='f5'"}],"mark":{"type":"text","font":"Liberation Serif","fontSize":108,"fill":"#262626","align":"left","baseline":"alphabetic","dx":157,"dy":349},"encoding":{"text":{"field":"label"}}},
{"transform":[{"filter":"datum.part=='w1'"}],"mark":{"type":"text","font":"Liberation Serif","fontStyle":"italic","fontSize":86,"fill":"#262626","align":"left","baseline":"alphabetic","dx":-215,"dy":420},"encoding":{"text":{"field":"label"}}},
{"transform":[{"filter":"datum.part=='w2'"}],"mark":{"type":"text","font":"Liberation Serif","fontSize":86,"fill":"#262626","align":"left","baseline":"alphabetic","dx":-150,"dy":427},"encoding":{"text":{"field":"label"}}},
{"transform":[{"filter":"datum.part=='w3'"}],"mark":{"type":"text","font":"Liberation Serif","fontSize":108,"fill":"#262626","align":"left","baseline":"alphabetic","dx":-66,"dy":422},"encoding":{"text":{"field":"label"}}},
{"transform":[{"filter":"datum.part=='w4'"}],"mark":{"type":"text","font":"Liberation Serif","fontSize":98,"fill":"#262626","align":"left","baseline":"alphabetic","dx":-29,"dy":420},"encoding":{"text":{"field":"label"}}},
{"transform":[{"filter":"datum.part=='w5'"}],"mark":{"type":"text","font":"Liberation Serif","fontSize":108,"fill":"#262626","align":"left","baseline":"alphabetic","dx":178,"dy":422},"encoding":{"text":{"field":"label"}}}
]}
